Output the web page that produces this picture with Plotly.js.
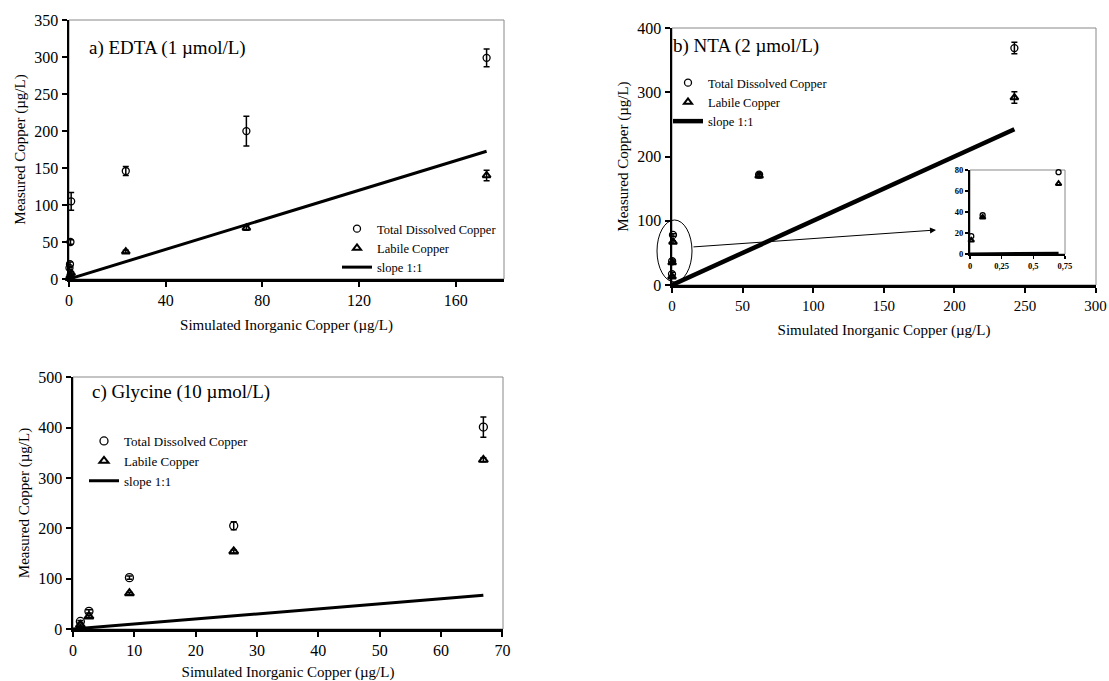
<!DOCTYPE html>
<html><head><meta charset="utf-8">
<script src="https://cdn.plot.ly/plotly-3.0.1.min.js"></script>
<style>html,body{margin:0;padding:0;background:#fff}</style>
</head><body><div id="chart" style="width:1109px;height:681px"></div>
<script>
// Panel a: EDTA (1 µmol/L)
const aX = [0.2, 0.4, 0.6, 0.9, 23.5, 73.4, 172.8];
const aTotal = [15, 20, 50, 105, 146, 200, 299];
const aTotalErr = [2, 3, 3, 12, 6, 20, 12];
const aLabile = [1, 3, 5, 8, 37, 69, 140];
const aLabileErr = [1, 1, 1, 2, 2, 3, 7];
const aSlopeX = [0, 172.8];

// Panel b: NTA (2 µmol/L)
const bX = [0.01, 0.1, 0.7, 61.7, 242.5];
const bTotal = [17, 37, 78, 172, 369];
const bTotalErr = [3, 2, 2, 3, 9];
const bLabile = [13, 35, 67, 170, 292];
const bLabileErr = [2, 2, 2, 3, 9];
const bSlopeX = [0, 242.5];

// Panel b inset (first three points)
const insetX = [0.01, 0.1, 0.7];
const insetTotal = [17, 37, 78];
const insetLabile = [13, 35, 67];
const insetSlopeX = [0, 0.7];
const insetTickVals = [0, 0.25, 0.5, 0.75];
const insetTickText = ['0', '0,25', '0,5', '0,75'];

// Panel c: Glycine (10 µmol/L)
const cX = [1.2, 2.6, 9.2, 26.2, 66.9];
const cTotal = [15, 35, 102, 205, 401];
const cTotalErr = [2, 3, 3, 8, 20];
const cLabile = [8, 25, 71, 154, 336];
const cLabileErr = [2, 2, 2, 3, 4];
const cSlopeX = [0, 66.9];

const seriesNames = ['Total Dissolved Copper', 'Labile Copper', 'slope 1:1'];
const yTitle = 'Measured Copper (µg/L)';
const xTitle = 'Simulated Inorganic Copper (µg/L)';

const FONT = 'Liberation Serif, Times New Roman, serif';
const W = 1109, H = 681;
const px = v => v / W;
const py = v => (H - v) / H;

function panel(xs, tot, totErr, lab, labErr, slopeX, xa, ya, leg, lw, ms) {
  const common = {xaxis: xa, yaxis: ya, type: 'scatter', cliponaxis: false, legend: leg};
  return [
    Object.assign({}, common, {
      x: xs, y: tot, mode: 'markers', name: seriesNames[0],
      marker: {symbol: 'circle-open', size: ms, color: '#000', line: {width: 1.3, color: '#000'}},
      error_y: totErr ? {type: 'data', array: totErr, visible: true, color: '#000', thickness: 1.5, width: 3} : undefined
    }),
    Object.assign({}, common, {
      x: xs, y: lab, mode: 'markers', name: seriesNames[1],
      marker: {symbol: 'triangle-up-open', size: ms, color: '#000', line: {width: 2, color: '#000'}},
      error_y: labErr ? {type: 'data', array: labErr, visible: true, color: '#000', thickness: 1.5, width: 3} : undefined
    }),
    Object.assign({}, common, {
      x: slopeX, y: slopeX, mode: 'lines', name: seriesNames[2],
      line: {color: '#000', width: lw}
    })
  ];
}

const traces = [].concat(
  panel(aX, aTotal, aTotalErr, aLabile, aLabileErr, aSlopeX, 'x', 'y', 'legend', 3, 7),
  panel(bX, bTotal, bTotalErr, bLabile, bLabileErr, bSlopeX, 'x2', 'y2', 'legend2', 4.5, 7),
  panel(cX, cTotal, cTotalErr, cLabile, cLabileErr, cSlopeX, 'x3', 'y3', 'legend3', 3, 8),
  panel(insetX, insetTotal, null, insetLabile, null, insetSlopeX, 'x4', 'y4', 'legend4', 3, 5)
);
traces.slice(9).forEach(t => { t.showlegend = false; });

function ax(domain, range, dtick, anchor, extra) {
  return Object.assign({
    domain: domain, range: range, dtick: dtick, tick0: 0, anchor: anchor,
    showgrid: false, zeroline: false, showline: true, linecolor: '#000', linewidth: 2.5,
    ticks: 'outside', ticklen: 5, tickwidth: 2, tickcolor: '#000',
    tickfont: {family: FONT, size: 16, color: '#000'},
    ticklabeloverflow: 'allow',
    fixedrange: true
  }, extra || {});
}
function xt(text, standoff) { return {text: text, font: {family: FONT, size: 15, color: '#000'}, standoff: standoff}; }

const legFont = {family: FONT, size: 12.5, color: '#000'};
function legend(x, y, size) {
  return {x: x, y: y, xanchor: 'left', yanchor: 'top', bgcolor: 'rgba(0,0,0,0)',
          font: Object.assign({}, legFont, size ? {size: size} : {}),
          tracegroupgap: 0, itemwidth: 30, borderwidth: 0};
}
const insetFont = {family: FONT, size: 8.5, color: '#000', weight: 'bold'};

const layout = {
  width: W, height: H, margin: {l: 0, r: 0, t: 0, b: 0},
  paper_bgcolor: '#fff', plot_bgcolor: 'rgba(0,0,0,0)',
  font: {family: FONT, color: '#000'},
  xaxis: ax([px(69), px(504)], [0, 180], 40, 'y', {tickvals: [0, 40, 80, 120, 160], title: xt(xTitle, 12)}),
  yaxis: ax([py(279), py(20)], [0, 350.2], 50, 'x', {title: xt(yTitle, 5)}),
  xaxis2: ax([px(672), px(1096)], [0, 300.3], 50, 'y2', {title: xt(xTitle, 12), tickfont: {family: FONT, size: 15, color: '#000'}}),
  yaxis2: ax([py(285), py(28)], [0, 400.3], 100, 'x2', {title: xt(yTitle, 5)}),
  xaxis3: ax([px(73), px(503)], [0, 70.1], 10, 'y3', {title: xt(xTitle, 12)}),
  yaxis3: ax([py(629), py(377)], [0, 500.4], 100, 'x3', {title: xt(yTitle, 5)}),
  xaxis4: ax([px(970), px(1065)], [0, 0.751], 0.25, 'y4', {tickvals: insetTickVals, ticktext: insetTickText,
          linewidth: 2, ticklen: 3, tickwidth: 1.5, tickfont: insetFont}),
  yaxis4: ax([py(254), py(170)], [0, 80.1], 20, 'x4', {linewidth: 2, ticklen: 3, tickwidth: 1.5, tickfont: insetFont}),
  showlegend: true,
  legend: legend(px(337), py(214)),
  legend2: legend(px(668), py(68)),
  legend3: legend(px(84), py(426), 13),
  legend4: Object.assign(legend(0, 0), {visible: false}),
  shapes: [
    {type: 'rect', xref: 'x domain', yref: 'y domain', x0: 0, x1: 1, y0: 0, y1: 1, line: {color: '#888', width: 1}, layer: 'below'},
    {type: 'rect', xref: 'x2 domain', yref: 'y2 domain', x0: 0, x1: 1, y0: 0, y1: 1, line: {color: '#888', width: 1}, layer: 'below'},
    {type: 'rect', xref: 'x3 domain', yref: 'y3 domain', x0: 0, x1: 1, y0: 0, y1: 1, line: {color: '#888', width: 1}, layer: 'below'},
    {type: 'rect', xref: 'x4 domain', yref: 'y4 domain', x0: 0, x1: 1, y0: 0, y1: 1, line: {color: '#888', width: 1}, layer: 'below'},
    {type: 'circle', xref: 'paper', yref: 'paper', x0: px(657), x1: px(692), y0: py(282), y1: py(220), line: {color: '#000', width: 1}}
  ],
  annotations: [
    {text: 'a) EDTA (1 µmol/L)', xref: 'paper', yref: 'paper', x: px(87), y: py(48), xanchor: 'left', yanchor: 'middle', showarrow: false, font: {family: FONT, size: 19, color: '#000'}},
    {text: 'b) NTA (2 µmol/L)', xref: 'paper', yref: 'paper', x: px(671), y: py(46), xanchor: 'left', yanchor: 'middle', showarrow: false, font: {family: FONT, size: 19, color: '#000'}},
    {text: 'c) Glycine (10 µmol/L)', xref: 'paper', yref: 'paper', x: px(90), y: py(392), xanchor: 'left', yanchor: 'middle', showarrow: false, font: {family: FONT, size: 19, color: '#000'}},
    {text: '', xref: 'paper', yref: 'paper', axref: 'pixel', ayref: 'pixel', x: px(936), y: py(230), ax: 692 - 936, ay: 247 - 230,
     showarrow: true, arrowhead: 2, arrowsize: 1.2, arrowwidth: 1, arrowcolor: '#000'}
  ]
};

Plotly.newPlot('chart', traces, layout, {displayModeBar: false, staticPlot: true});
</script>
</body></html>
